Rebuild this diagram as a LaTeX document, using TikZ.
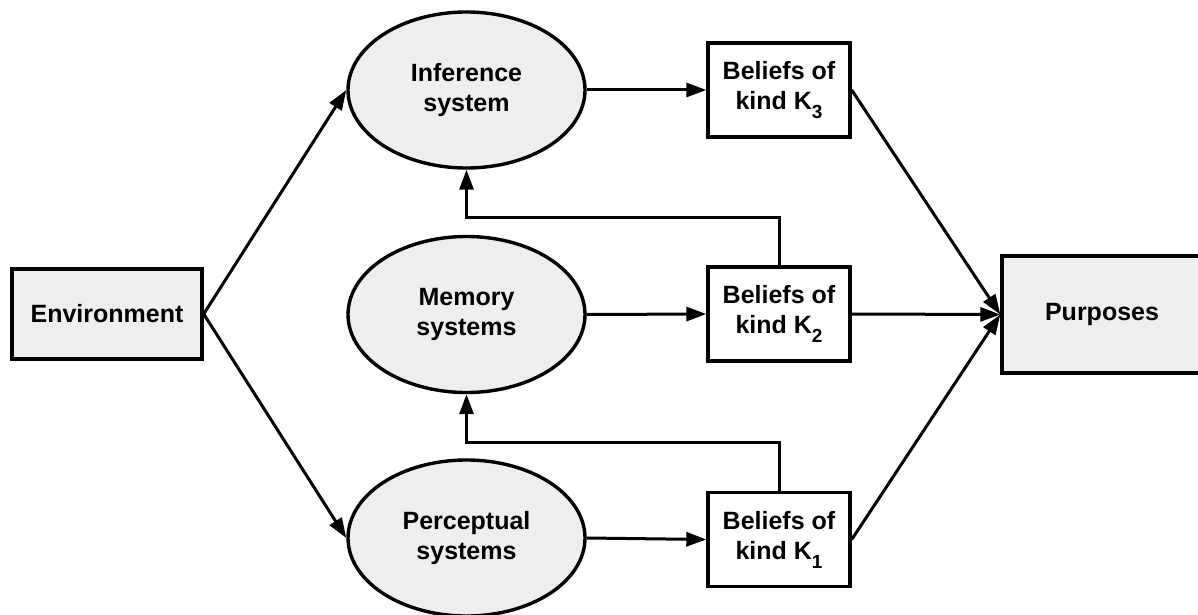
\documentclass[tikz,border=0pt]{standalone}
\usepackage{fontspec}
\setmainfont{Liberation Sans}
\usetikzlibrary{shapes.geometric,arrows.meta}
\definecolor{boxgray}{HTML}{EEEEEE}
\newcommand{\ksub}[1]{K\raisebox{-9pt}{\fontsize{19}{19}\selectfont #1}}
\tikzset{
  lbl/.style={font=\fontsize{25}{30}\selectfont\bfseries, align=center, text=black},
  graybox/.style={lbl, draw=black, line width=3.4pt, fill=boxgray, rectangle, inner sep=0pt},
  belief/.style={lbl, draw=black, line width=3.4pt, fill=white, rectangle, inner sep=0pt, minimum width=142pt, minimum height=94pt},
  sysell/.style={lbl, draw=black, line width=3.4pt, fill=boxgray, ellipse, inner sep=0pt, minimum width=237pt, minimum height=156pt},
  conn/.style={line width=3pt, draw=black, -{Triangle[length=20pt,width=14pt]}},
  plain/.style={line width=3pt, draw=black}
}
\begin{document}
\begin{tikzpicture}[x=1pt,y=-1pt]
\useasboundingbox (0,0) rectangle (1198,615);
\fill[white] (0,0) rectangle (1198,615);
\node[graybox, minimum width=190pt, minimum height=90pt] (env) at (107,314) {Environment};
\node[graybox, minimum width=200pt, minimum height=117pt] (purp) at (1102,314.5) {Purposes};
\node[sysell] (inf) at (466.5,90) {Inference\\system};
\node[sysell] (mem) at (466.5,314.5) {Memory\\systems};
\node[sysell] (per) at (466.5,538) {Perceptual\\systems};
\node[belief] (k3) at (779,90) {Beliefs of\\kind \ksub{3}};
\node[belief] (k2) at (779,314) {Beliefs of\\kind \ksub{2}};
\node[belief] (k1) at (779,539.5) {Beliefs of\\kind \ksub{1}};
\coordinate (c2) at (779,217.5);
\coordinate (c2b) at (466.5,217.5);
\coordinate (c1) at (779,442);
\coordinate (c1b) at (466.5,442);
\draw[conn] (env.east) -- (inf.west);
\draw[conn] (env.east) -- (per.west);
\draw[conn] (inf.east) -- (k3.west);
\draw[conn] (mem.east) -- (k2.west);
\draw[conn] (per.east) -- (k1.west);
\draw[conn] (k3.east) -- (purp.west);
\draw[conn] (k2.east) -- (purp.west);
\draw[conn] (k1.east) -- (purp.west);
\draw[conn] (k2.north) -- (c2) -- (c2b) -- (inf.south);
\draw[conn] (k1.north) -- (c1) -- (c1b) -- (mem.south);
\end{tikzpicture}
\end{document}
